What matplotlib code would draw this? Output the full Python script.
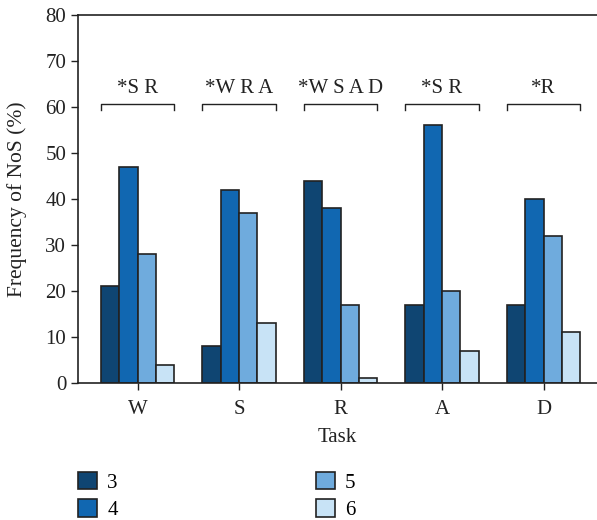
import numpy as np
import matplotlib.pyplot as plt

plt.rcParams['font.family'] = ['Liberation Serif', 'DejaVu Serif']

# data
tasks = ['W', 'S', 'R', 'A', 'D']
levels = ['3', '4', '5', '6']
nos_3 = [21, 8, 44, 17, 17]
nos_4 = [47, 42, 38, 56, 40]
nos_5 = [28, 37, 17, 20, 32]
nos_6 = [4, 13, 1, 7, 11]
signif = ['*S R', '*W R A', '*W S A D', '*S R', '*R']

colors = ['#0f4572', '#1167b1', '#6fabdd', '#c8e3f6']
series = [nos_3, nos_4, nos_5, nos_6]

fig = plt.figure(figsize=(5.97, 5.20), dpi=100)
ax = fig.add_axes([0.1307, 0.2635, 0.8693, 0.7077])

x = np.arange(len(tasks))
w = 0.182
for i, (vals, c) in enumerate(zip(series, colors)):
    ax.bar(x + (i - 1.5) * w, vals, width=w, color=c, edgecolor='#222222',
           linewidth=1.2, label=levels[i], zorder=2)

# significance brackets over each group
half = 2 * w
for xi, txt in zip(x, signif):
    ax.plot([xi - half, xi - half, xi + half, xi + half], [59.3, 60.7, 60.7, 59.3],
            color='#222222', linewidth=1.0, clip_on=False)
    ax.text(xi, 62.0, txt, ha='center', va='bottom', fontsize=15, color='#222222')

ax.set_xlim(-0.586, 4.527)
ax.set_ylim(0, 80)
ax.set_yticks(range(0, 81, 10))
ax.set_xticks(x)
ax.set_xticklabels(tasks)
ax.tick_params(labelsize=15, colors='#222222', length=5, width=1.0)
ax.tick_params(axis='x', pad=7)
ax.set_xlabel('Task', fontsize=15, color='#222222', labelpad=7)
ax.set_ylabel('Frequency of NoS (%)', fontsize=15.5, color='#222222', labelpad=13)
for s in ['left', 'bottom', 'top']:
    ax.spines[s].set_color('#222222')
    ax.spines[s].set_linewidth(1.2)
ax.spines['right'].set_visible(False)

fig.legend(loc='upper left', bbox_to_anchor=(0.106, 0.121), ncol=2, frameon=False,
           fontsize=15, handlelength=0.91, handleheight=0.91, columnspacing=9.5,
           labelspacing=0.33, handletextpad=0.5, borderpad=0.2)

plt.savefig('out.png', dpi=100)
